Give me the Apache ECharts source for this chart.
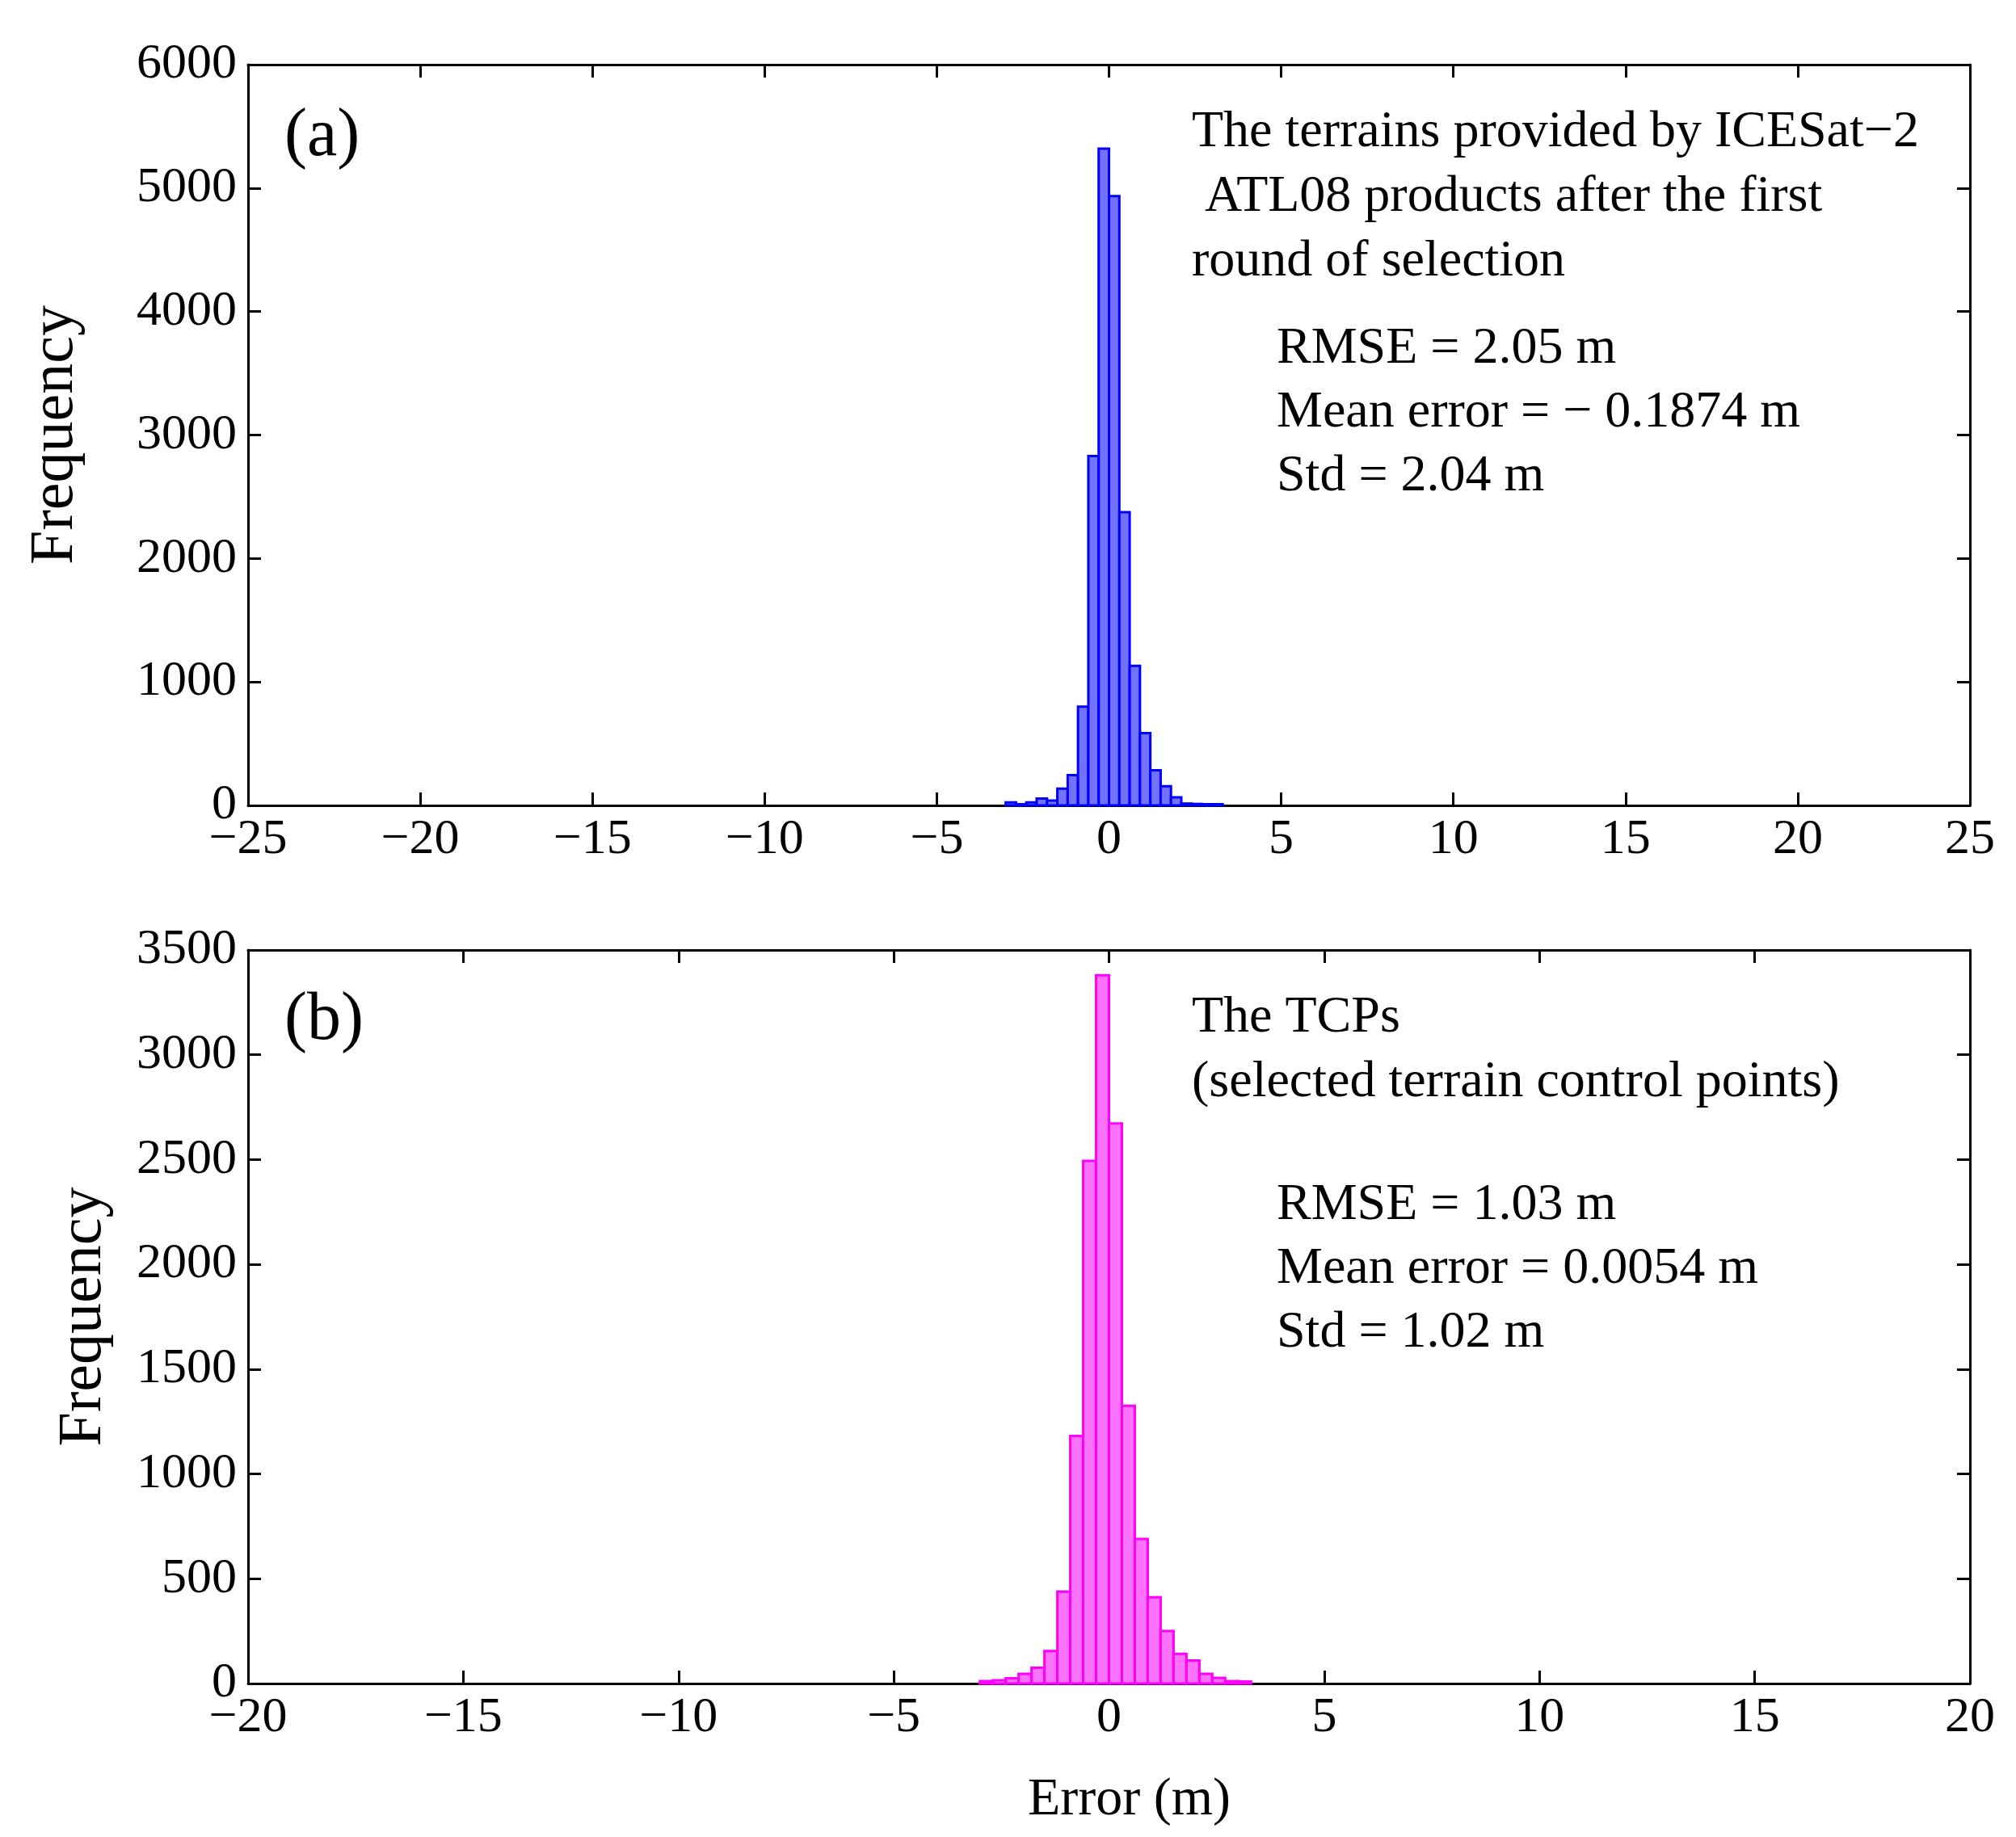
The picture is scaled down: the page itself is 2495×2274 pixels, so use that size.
<!DOCTYPE html>
<html><head><meta charset="utf-8">
<script src="https://cdn.jsdelivr.net/npm/echarts@6/dist/echarts.min.js"></script>
<style>html,body{margin:0;background:#fff}#c{width:2495px;height:2274px}</style>
</head><body><div id="c"></div>
<script>
var binW = 0.3;
// bin left edges and counts, panel (a)
var edgesA = [-3.0,-2.7,-2.4,-2.1,-1.8,-1.5,-1.2,-0.9,-0.6,-0.3,0,0.3,0.6,0.9,1.2,1.5,1.8,2.1,2.4,2.7,3.0];
var countsA = [25,10,25,55,40,135,245,800,2830,5320,4935,2375,1130,585,285,155,65,15,12,10,10];
// panel (b)
var edgesB = [-3.0,-2.7,-2.4,-2.1,-1.8,-1.5,-1.2,-0.9,-0.6,-0.3,0,0.3,0.6,0.9,1.2,1.5,1.8,2.1,2.4,2.7,3.0];
var countsB = [12,15,25,46,75,155,438,1181,2494,3380,2672,1325,690,411,251,142,110,46,27,12,10];
var statsA = ['RMSE = 2.05 m','Mean error = \u2212 0.1874 m','Std = 2.04 m'];
var titleA = ['The terrains provided by ICESat\u22122',' ATL08 products after the first','round of selection'];
var statsB = ['RMSE = 1.03 m','Mean error = 0.0054 m','Std = 1.02 m'];
var titleB = ['The TCPs','(selected terrain control points)'];

var F = 'Liberation Serif';
function toData(edges, counts){
    var d = [];
    for (var i = 0; i < edges.length; i++) d.push([edges[i], edges[i] + binW, counts[i]]);
    return d;
}
function render(stroke, fill){
    return function(params, api){
        var p0 = api.coord([api.value(0), api.value(2)]);
        var p1 = api.coord([api.value(1), 0]);
        return {type:'rect', shape:{x:p0[0], y:p0[1], width:p1[0]-p0[0], height:p1[1]-p0[1]},
            style:{fill:fill, stroke:stroke, lineWidth:3}};
    };
}
function fmt(v){ return String(v).replace('-', '\u2212'); }
function xAx(g, lim, iv, show){
    return {type:'value', gridIndex:g, min:-lim, max:lim, interval:iv, position: show ? 'bottom' : 'top',
        axisLine:{onZero:false, lineStyle:{color:'#000', width:3}},
        axisTick:{show:true, inside:true, length:16, lineStyle:{color:'#000', width:3}},
        axisLabel:{show:show, margin:12, formatter:fmt, fontFamily:F, fontSize:62, color:'#000', showMinLabel:true, showMaxLabel:true},
        splitLine:{show:false}};
}
function yAx(g, max, iv, show, gap){
    return {type:'value', gridIndex:g, min:0, max:max, interval:iv, position: show ? 'left' : 'right',
        name: show ? 'Frequency' : '', nameLocation:'middle', nameGap:gap,
        nameTextStyle:{fontFamily:F, fontSize:76, color:'#000'},
        axisLine:{show:true, onZero:false, lineStyle:{color:'#000', width:3}},
        axisTick:{show:true, inside:true, length:16, lineStyle:{color:'#000', width:3}},
        axisLabel:{show:show, margin:14, formatter:function(v){ return String(v); }, fontFamily:F, fontSize:62, color:'#000'},
        splitLine:{show:false}};
}
function texts(lines, x, y0, step){
    return lines.map(function(s, i){
        return {type:'text', left:x, top:y0 + i*step, style:{text:s, font:'64px "' + F + '"', fill:'#000'}};
    });
}
var option = {
    backgroundColor:'#fff',
    grid:[{left:307, right:57, top:80, height:917}, {left:307, right:57, top:1176, height:908}],
    xAxis:[xAx(0,25,5,true), xAx(0,25,5,false), xAx(1,20,5,true), xAx(1,20,5,false)],
    yAxis:[yAx(0,6000,1000,true,200), yAx(0,6000,1000,false,0), yAx(1,3500,500,true,165), yAx(1,3500,500,false,0)],
    series:[
        {type:'custom', xAxisIndex:0, yAxisIndex:0, renderItem:render('#0000ff','#7272ff'), data:toData(edgesA,countsA), encode:{x:[0,1], y:2}},
        {type:'custom', xAxisIndex:2, yAxisIndex:2, renderItem:render('#ff00ff','#ff72ff'), data:toData(edgesB,countsB), encode:{x:[0,1], y:2}}
    ],
    graphic:[].concat(
        [{type:'text', left:352, top:128, style:{text:'(a)', font:'84px "' + F + '"', fill:'#000'}},
         {type:'text', left:352, top:1222, style:{text:'(b)', font:'84px "' + F + '"', fill:'#000'}},
         {type:'text', left:1272, top:2196, style:{text:'Error (m)', font:'66px "' + F + '"', fill:'#000'}}],
        texts(titleA, 1475, 132, 80), texts(statsA, 1580, 400, 79),
        texts(titleB, 1475, 1228, 80), texts(statsB, 1580, 1460, 79)
    )
};
var myChart = echarts.init(document.getElementById('c'));
myChart.setOption(option);
</script>
</body></html>
